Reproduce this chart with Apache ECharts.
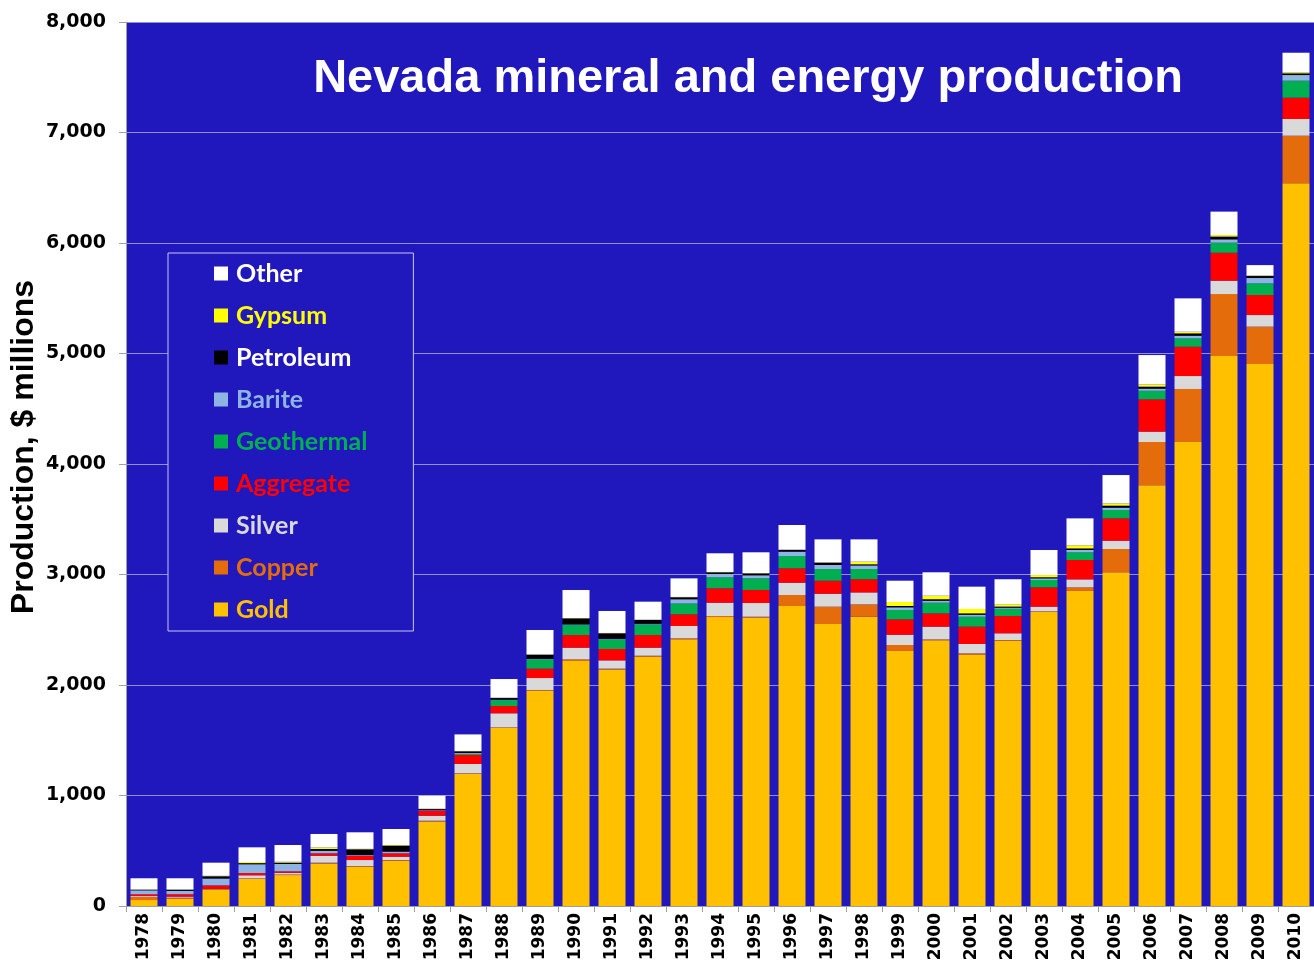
<!DOCTYPE html>
<html>
<head>
<meta charset="utf-8">
<script src="https://cdn.jsdelivr.net/npm/echarts@6/dist/echarts.min.js"></script>
<style>
html,body{margin:0;padding:0;background:#ffffff;}
#chart{width:1314px;height:963px;}
</style>
</head>
<body>
<div id="chart"></div>
<script>
const years = ['1978','1979','1980','1981','1982','1983','1984','1985','1986','1987','1988','1989','1990','1991','1992','1993','1994','1995','1996','1997','1998','1999','2000','2001','2002','2003','2004','2005','2006','2007','2008','2009','2010'];
const yTicks = [0,1000,2000,3000,4000,5000,6000,7000,8000];

const gold       = [54,65,150,245,280,385,355,410,765,1195,1612,1950,2217,2140,2255,2413,2615,2610,2715,2552,2618,2308,2405,2275,2400,2660,2851,3020,3807,4199,4977,4905,6540];
const copper     = [28,10,7,5,5,7,7,6,7,6,5,5,15,8,10,10,9,8,99,157,112,54,8,12,7,7,33,211,392,480,561,338,431];
const silver     = [8,10,0,28,15,63,54,30,45,84,127,108,106,75,73,111,121,124,112,117,108,93,115,84,61,42,72,75,94,117,121,105,151];
const aggregate  = [16,22,30,20,14,22,40,31,45,82,66,85,114,103,114,106,130,118,130,118,119,139,120,157,156,175,175,202,292,265,253,181,193];
const geothermal = [0,0,0,0,0,0,0,0,0,10,52,84,91,87,97,98,100,106,111,106,93,85,97,90,66,66,70,76,78,76,91,106,154];
const barite     = [36,30,62,80,66,23,6,15,5,8,5,5,5,5,5,38,30,27,40,36,32,24,18,18,10,15,21,21,19,24,30,48,51];
const petroleum  = [5,10,20,10,12,16,51,54,10,15,15,37,55,50,34,18,15,17,15,21,10,12,13,12,10,10,14,18,18,21,25,18,15];
const gypsum     = [4,3,4,10,8,15,4,5,3,3,3,3,3,3,3,3,3,3,3,3,24,36,32,40,21,20,28,21,21,15,14,5,10];
const other      = [100,101,119,133,152,121,150,146,118,150,169,221,254,199,163,168,169,188,223,208,202,193,212,202,226,227,244,256,265,302,212,94,177];

const seriesDefs = [
  {name:'Gold', data:gold, color:'#FFC000'},
  {name:'Copper', data:copper, color:'#E46C0A'},
  {name:'Silver', data:silver, color:'#D9D9D9'},
  {name:'Aggregate', data:aggregate, color:'#FF0000'},
  {name:'Geothermal', data:geothermal, color:'#00B050'},
  {name:'Barite', data:barite, color:'#8EB4E3'},
  {name:'Petroleum', data:petroleum, color:'#000000'},
  {name:'Gypsum', data:gypsum, color:'#FFFF00'},
  {name:'Other', data:other, color:'#FFFFFF'}
];
const legendTextColors = {Other:'#FFFFFF', Gypsum:'#FFFF00', Petroleum:'#FFFFFF', Barite:'#8EB4E3', Geothermal:'#00B050', Aggregate:'#FF0000', Silver:'#D9D9D9', Copper:'#E46C0A', Gold:'#FFC000'};

const chart = echarts.init(document.getElementById('chart'), null, {renderer:'canvas'});
const option = {
  backgroundColor:'#ffffff',
  animation:false,
  title:{
    text:'Nevada mineral and energy production',
    left:743, top:51, textAlign:'center',
    textStyle:{color:'#ffffff', fontFamily:'Liberation Sans, Arial, sans-serif', fontWeight:'bold', fontSize:47}
  },
  legend:{
    orient:'vertical',
    left:168, top:253,
    padding:[8,46,9,46],
    itemWidth:14, itemHeight:14, itemGap:17,
    icon:'rect',
    backgroundColor:'#2017bd',
    borderColor:'#c8c8f0', borderWidth:1,
    textStyle:{fontFamily:'Lato, Open Sans, sans-serif', fontWeight:'bold', fontSize:25, padding:[0,0,0,3]},
    data: seriesDefs.slice().reverse().map(s => ({name:s.name, textStyle:{color:legendTextColors[s.name]}}))
  },
  grid:{
    left:126, right:0, top:22, bottom:57,
    outerBoundsMode:'none', containLabel:false,
    show:true, backgroundColor:'#2017bd', borderWidth:0
  },
  xAxis:{
    type:'category',
    data:years,
    axisLine:{show:true, lineStyle:{color:'#a0a0a0', width:1}},
    axisTick:{show:true, alignWithLabel:false, length:6, lineStyle:{color:'#a0a0a0'}},
    axisLabel:{rotate:90, margin:7, color:'#000000', fontFamily:'DejaVu Sans, sans-serif', fontWeight:'bold', fontSize:17, interval:0}
  },
  yAxis:{
    type:'value',
    min:0, max:8000, interval:1000,
    name:'Production, $ millions',
    nameLocation:'middle', nameRotate:90, nameGap:86, nameMoveOverlap:false,
    nameTextStyle:{color:'#000000', fontFamily:'Liberation Sans, Arial, sans-serif', fontWeight:'bold', fontSize:32, padding:[0,0,0,34]},
    axisLine:{show:true, lineStyle:{color:'#a0a0a0', width:1}},
    axisTick:{show:true, length:7, lineStyle:{color:'#a0a0a0'}},
    splitLine:{show:true, lineStyle:{color:'#9090d8', width:1}},
    axisLabel:{margin:20, color:'#000000', fontFamily:'DejaVu Sans, sans-serif', fontWeight:'bold', fontSize:19,
      formatter: v => yTicks.includes(v) ? v.toLocaleString('en-US') : ''}
  },
  series: seriesDefs.map(s => ({
    name:s.name, type:'bar', stack:'total', data:s.data,
    barCategoryGap:'25%',
    itemStyle:{color:s.color},
    emphasis:{disabled:true}
  }))
};
chart.setOption(option);
</script>
</body>
</html>
